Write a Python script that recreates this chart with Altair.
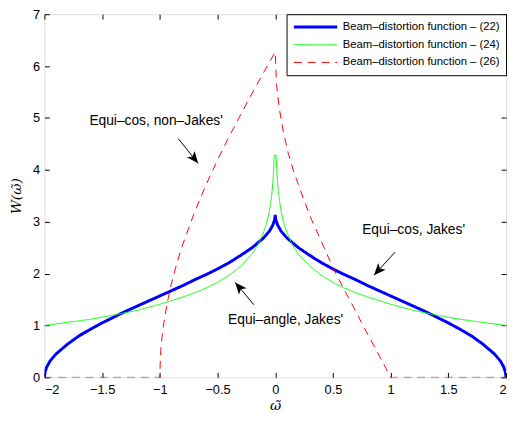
import altair as alt
import pandas as pd

# ---------------- data ----------------
S22 = "Beam\u2013distortion function \u2013 (22)"
S24 = "Beam\u2013distortion function \u2013 (24)"
S26 = "Beam\u2013distortion function \u2013 (26)"

blue_w = [-2.0, -1.995, -1.98, -1.95, -1.9, -1.8, -1.7, -1.6, -1.5, -1.4, -1.3, -1.2, -1.1,
          -1.0, -0.9, -0.8, -0.7, -0.6, -0.5, -0.4, -0.3, -0.2, -0.1, -0.05, -0.02, -0.005, 0.0,
          0.005, 0.02, 0.05, 0.1, 0.2, 0.3, 0.4, 0.5, 0.6, 0.7, 0.8, 0.9, 1.0,
          1.1, 1.2, 1.3, 1.4, 1.5, 1.6, 1.7, 1.8, 1.9, 1.95, 1.98, 1.995, 2.0]
blue_W = [0.0, 0.10, 0.20, 0.32, 0.45, 0.64, 0.80, 0.93, 1.05, 1.16, 1.27, 1.37, 1.47,
          1.57, 1.67, 1.77, 1.88, 1.98, 2.09, 2.21, 2.35, 2.50, 2.69, 2.82, 2.94, 3.04, 3.13,
          3.04, 2.94, 2.82, 2.69, 2.50, 2.35, 2.21, 2.09, 1.98, 1.88, 1.77, 1.67, 1.57,
          1.47, 1.37, 1.27, 1.16, 1.05, 0.93, 0.80, 0.64, 0.45, 0.32, 0.20, 0.10, 0.0]

green_w = [-2.0, -1.8, -1.6, -1.4, -1.2, -1.0, -0.9, -0.8, -0.7, -0.6, -0.5, -0.4, -0.3,
           -0.2, -0.15, -0.1, -0.07, -0.05, -0.03, -0.02, -0.01, -0.008,
           0.008, 0.01, 0.02, 0.03, 0.05, 0.07, 0.1, 0.15, 0.2, 0.3, 0.4, 0.5, 0.6,
           0.7, 0.8, 0.9, 1.0, 1.2, 1.4, 1.6, 1.8, 2.0]
green_W = [1.0, 1.06, 1.12, 1.20, 1.29, 1.41, 1.48, 1.55, 1.63, 1.72, 1.83, 1.97, 2.14,
           2.38, 2.55, 2.80, 3.01, 3.21, 3.52, 3.76, 4.18, 4.28,
           4.28, 4.18, 3.76, 3.52, 3.21, 3.01, 2.80, 2.55, 2.38, 2.14, 1.97, 1.83, 1.72,
           1.63, 1.55, 1.48, 1.41, 1.29, 1.20, 1.12, 1.06, 1.0]

red_w = [-2.0, -1.0, -0.995, -0.99, -0.98, -0.96, -0.93, -0.9, -0.85, -0.8, -0.7, -0.6,
         -0.5, -0.4, -0.3, -0.2, -0.1, 0.0, 0.01, 0.02, 0.04, 0.07, 0.1, 0.113, 0.156, 0.2,
         0.255, 0.313, 0.4, 0.505, 0.583, 0.68, 0.772, 0.87, 0.96, 1.0, 2.0]
red_W = [0.0, 0.0, 0.40, 0.57, 0.80, 1.13, 1.50, 1.80, 2.22, 2.57, 3.18, 3.71,
         4.19, 4.64, 5.06, 5.48, 5.88, 6.27, 5.70, 5.46, 5.12, 4.74, 4.45, 4.32, 4.00, 3.72,
         3.38, 3.05, 2.62, 2.09, 1.75, 1.35, 0.95, 0.55, 0.17, 0.0, 0.0]

ann_text = ["Equi\u2013cos, non\u2013Jakes'", "Equi\u2013cos, Jakes'", "Equi\u2013angle, Jakes'"]
ann_x = [-1.032, 1.199, 0.090]
ann_y = [4.94, 2.84, 1.10]
arrow_x0 = [-0.839, 1.038, -0.185]
arrow_y0 = [4.60, 2.414, 1.399]
arrow_x1 = [-0.668, 0.856, -0.347]
arrow_y1 = [4.125, 1.970, 1.831]
arrow_angle = [141, 222, 320]

x_ticks = [-2, -1.5, -1, -0.5, 0, 0.5, 1, 1.5, 2]
y_ticks = [0, 1, 2, 3, 4, 5, 6, 7]

# ---------------- tables ----------------
rows = []
for name, ws, Ws in [(S22, blue_w, blue_W), (S24, green_w, green_W), (S26, red_w, red_W)]:
    for i, (a, b) in enumerate(zip(ws, Ws)):
        rows.append({"series": name, "w": a, "W": b, "i": i})
df = pd.DataFrame(rows)

ann = pd.DataFrame({"text": ann_text, "x": ann_x, "y": ann_y})
arr = pd.DataFrame({"x0": arrow_x0, "y0": arrow_y0, "x1": arrow_x1, "y1": arrow_y1,
                    "angle": arrow_angle})

xscale = alt.Scale(domain=[-2, 2], nice=False, zero=False)
yscale = alt.Scale(domain=[0, 7], nice=False, zero=False)

FONT = "Liberation Sans"
MATH = "DejaVu Serif"

x_axis = alt.Axis(values=x_ticks, format="~g", offset=-5, tickSize=5, domain=False, grid=False,
                  labelPadding=6, labelFontSize=13, labelFont=FONT, labelColor="black",
                  tickColor="black", title="\u03c9\u0303", titleFont=MATH,
                  titleFontStyle="italic", titleFontWeight="normal", titleFontSize=14,
                  titleColor="black", titlePadding=3)
y_axis = alt.Axis(values=y_ticks, format="~g", offset=-5, tickSize=5, domain=False, grid=False,
                  labelPadding=5, labelFontSize=13, labelFont=FONT, labelColor="black",
                  tickColor="black", title="W(\u03c9\u0303)", titleFont=MATH,
                  titleFontStyle="italic", titleFontWeight="normal", titleFontSize=14,
                  titleColor="black", titlePadding=9)

legend = alt.Legend(orient="top-right", offset=0, padding=6, strokeColor="black",
                    fillColor="white", labelFont=FONT, labelFontSize=11.5, labelColor="black",
                    symbolType="stroke", symbolSize=1936, clipHeight=14, rowPadding=4,
                    labelOffset=4, title=None)

lines = alt.Chart(df).mark_line(clip=True).encode(
    x=alt.X("w:Q", scale=xscale, axis=x_axis),
    y=alt.Y("W:Q", scale=yscale, axis=y_axis),
    color=alt.Color("series:N", scale=alt.Scale(domain=[S22, S24, S26],
                    range=["#0000ff", "#00ff00", "#ff0000"]), legend=legend),
    strokeDash=alt.StrokeDash("series:N", scale=alt.Scale(domain=[S22, S24, S26],
                    range=[[1, 0], [1, 0], [8, 6]]), legend=legend),
    strokeWidth=alt.StrokeWidth("series:N", scale=alt.Scale(type="ordinal",
                    domain=[S22, S24, S26], range=[3, 1, 1]), legend=legend),
    order="i:Q",
)

frame_axes = alt.Chart(df).mark_point(opacity=0).encode(
    x=alt.X("w:Q", scale=xscale, axis=alt.Axis(orient="top", values=x_ticks, offset=-5,
            tickSize=5, domain=False, grid=False, labels=False, tickColor="black", title=None)),
    y=alt.Y("W:Q", scale=yscale, axis=alt.Axis(orient="right", values=y_ticks, offset=-5,
            tickSize=5, domain=False, grid=False, labels=False, tickColor="black", title=None)),
)

texts = alt.Chart(ann).mark_text(font=FONT, fontSize=14, color="black",
                                 align="center", baseline="middle").encode(
    x=alt.X("x:Q", scale=xscale, axis=None), y=alt.Y("y:Q", scale=yscale, axis=None),
    text="text:N")

shafts = alt.Chart(arr).mark_rule(color="black", strokeWidth=1).encode(
    x=alt.X("x0:Q", scale=xscale, axis=None), y=alt.Y("y0:Q", scale=yscale, axis=None),
    x2="x1:Q", y2="y1:Q")

heads = alt.Chart(arr).mark_point(shape="M0,0L0.42,1L0,0.75L-0.42,1Z", filled=True,
                                  color="black", opacity=1, size=576).encode(
    x=alt.X("x1:Q", scale=xscale, axis=None), y=alt.Y("y1:Q", scale=yscale, axis=None),
    angle=alt.Angle("angle:Q", scale=None))

chart = alt.layer(lines, frame_axes, texts, shafts, heads).resolve_axis(
    x="independent", y="independent"
).properties(
    width=469, height=369,
    autosize=alt.AutoSizeParams(type="none"),
    padding={"left": 37, "top": 3, "right": 2, "bottom": 40},
    background="white",
).configure_view(stroke="black", strokeWidth=1).configure(font=FONT)

chart.save("out.html", embed_options={"renderer": "svg", "actions": False})
